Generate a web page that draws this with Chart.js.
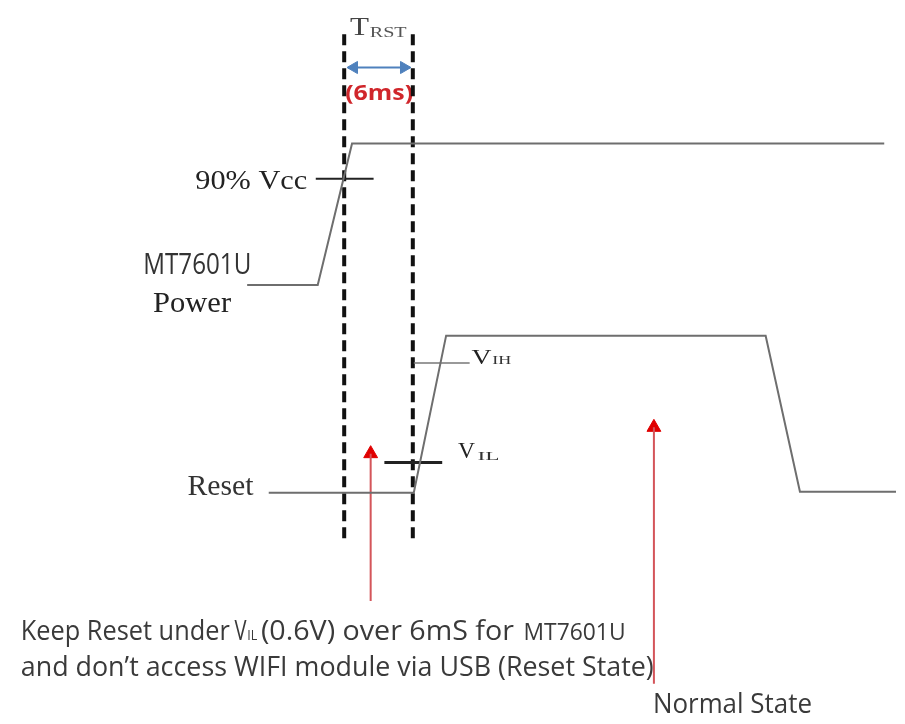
<!DOCTYPE html>
<html>
<head>
<meta charset="utf-8">
<title>MT7601U reset timing</title>
<script src="https://cdn.jsdelivr.net/npm/chart.js@4"></script>
<style>
  html, body { margin: 0; padding: 0; background: #fff; }
  #wrap { width: 905px; height: 724px; }
</style>
</head>
<body>
<div id="wrap"><canvas id="timing" width="905" height="724"></canvas></div>
<script>
// ==================== DATA ====================
// x = time along the diagram, y = signal level (axis reversed, top = high)
const powerT = [243, 315, 350, 893];
const powerV = [283, 283, 138, 138];

const resetT = [265, 413, 446, 772, 807, 905];
const resetV = [496, 496, 335, 335, 495, 495];

// T_RST window (6ms) markers
const markerT = [342, 412];
const markerSpan = [26, 548];

// threshold ticks: [t start, t end, level]
const vcc90Tick = [313, 372, 174];
const vihTick = [413, 470, 363];
const vilTick = [383, 442, 465];

// red callout arrows
const calloutT = [369, 658];
const calloutTip = [448, 421];
const calloutTail = [607, 692];

// T_RST span arrow
const spanArrowT = [346, 409];
const spanArrowV = 60;

// ==================== TEXT ====================
const serif = '"Liberation Serif", "DejaVu Serif", serif';
const sans = '"Open Sans", "Noto Sans", sans-serif';
const labels = [
  { text: 'T', x: 348, y: 27, font: '26px ' + serif, w: 19, color: '#444' },
  { text: 'RST', x: 368, y: 29, font: '14px ' + serif, w: 37, color: '#555' },
  { text: '(6ms)', x: 343, y: 93, font: 'bold 22px ' + sans, w: 68, color: '#d0262b' },
  { text: '90% Vcc', x: 190, y: 185, font: '27px ' + serif, w: 112, color: '#222' },
  { text: 'MT7601U', x: 137, y: 272, font: '30px ' + sans, w: 108, color: '#333' },
  { text: 'Power', x: 147, y: 311, font: '30px ' + serif, w: 78, color: '#222' },
  { text: 'Reset', x: 182, y: 498, font: '30px ' + serif, w: 66, color: '#333' },
  { text: 'V', x: 472, y: 364, font: '22px ' + serif, w: 20, color: '#222' },
  { text: 'IH', x: 493, y: 364, font: '13px ' + serif, w: 19, color: '#333' },
  { text: 'V', x: 458, y: 460, font: '24px ' + serif, w: 17, color: '#222' },
  { text: 'IL', x: 478, y: 463, font: '13px ' + serif, w: 22, color: '#333' },
  { text: 'Keep Reset under', x: 12, y: 647, font: '27px ' + sans, w: 209, color: '#3a3a3a' },
  { text: 'V', x: 230, y: 647, font: '27px ' + sans, w: 12, color: '#3a3a3a' },
  { text: 'IL', x: 243, y: 647, font: '14px ' + sans, w: 10, color: '#3a3a3a' },
  { text: '(0.6V) over 6mS for', x: 257, y: 647, font: '27px ' + sans, w: 253, color: '#3a3a3a' },
  { text: 'MT7601U', x: 525, y: 647, font: '24px ' + sans, w: 102, color: '#3a3a3a' },
  { text: 'and don\u2019t access WIFI module via USB (Reset State)', x: 12, y: 684, font: '27px ' + sans, w: 633, color: '#3a3a3a' },
  { text: 'Normal State', x: 657, y: 722, font: '27px ' + sans, w: 159, color: '#3a3a3a' }
];

// ==================== HELPERS ====================
const pts = (xs, ys) => xs.map((x, i) => ({ x, y: ys[i] }));
const seg = (x0, x1, y0, y1) => [{ x: x0, y: y0 }, { x: x1, y: y1 }];

function line(data, color, width, extra) {
  return Object.assign({
    data, showLine: true, borderColor: color, borderWidth: width,
    pointRadius: 0, tension: 0, fill: false
  }, extra || {});
}

function head(data, color, radius, rotation) {
  return {
    data, showLine: false, pointStyle: 'triangle', pointRadius: radius,
    pointRotation: rotation, backgroundColor: color, borderColor: color, borderWidth: 1
  };
}

const textPlugin = {
  id: 'diagramText',
  beforeDatasetsDraw(chart) {
    const { ctx, scales: { x, y } } = chart;
    labels.forEach(l => {
      ctx.save();
      ctx.font = l.font;
      ctx.fillStyle = l.color;
      ctx.textBaseline = 'alphabetic';
      const natural = ctx.measureText(l.text).width;
      ctx.translate(x.getPixelForValue(l.x), y.getPixelForValue(l.y));
      ctx.scale(l.w / natural, 1);
      ctx.fillText(l.text, 0, 0);
      ctx.restore();
    });
  }
};

// ==================== DATASETS ====================
const datasets = [];

// signals
datasets.push(line(pts(powerT, powerV), '#6e6e6e', 2));
datasets.push(line(pts(resetT, resetV), '#6e6e6e', 2));

// threshold ticks
datasets.push(line(seg(vcc90Tick[0], vcc90Tick[1], vcc90Tick[2], vcc90Tick[2]), '#222', 2));
datasets.push(line(seg(vihTick[0], vihTick[1], vihTick[2], vihTick[2]), '#777', 1.5));
datasets.push(line(seg(vilTick[0], vilTick[1], vilTick[2], vilTick[2]), '#222', 3));

// dashed T_RST markers
markerT.forEach(t => {
  datasets.push(line(seg(t, t, markerSpan[0], markerSpan[1]), '#111', 4, { borderDash: [11, 6], borderCapStyle: 'butt' }));
});

// blue span arrow
datasets.push(line(seg(spanArrowT[0], spanArrowT[1], spanArrowV, spanArrowV), '#4f81bd', 2));
datasets.push(head([{ x: spanArrowT[0] + 6, y: spanArrowV }], '#4f81bd', 7, -90));
datasets.push(head([{ x: spanArrowT[1] - 6, y: spanArrowV }], '#4f81bd', 7, 90));

// red callouts
calloutT.forEach((t, i) => {
  datasets.push(line(seg(t, t, calloutTip[i] + 8, calloutTail[i]), '#d4555a', 2));
  datasets.push(head([{ x: t, y: calloutTip[i] + 8 }], '#e00000', 8, 0));
});

new Chart(document.getElementById('timing'), {
  type: 'scatter',
  data: { datasets },
  options: {
    responsive: false,
    animation: false,
    layout: { padding: 0 },
    plugins: { legend: { display: false }, tooltip: { enabled: false } },
    scales: {
      x: { type: 'linear', min: 0, max: 905, display: false },
      y: { type: 'linear', min: 0, max: 724, reverse: true, display: false }
    }
  },
  plugins: [textPlugin]
});
</script>
</body>
</html>
